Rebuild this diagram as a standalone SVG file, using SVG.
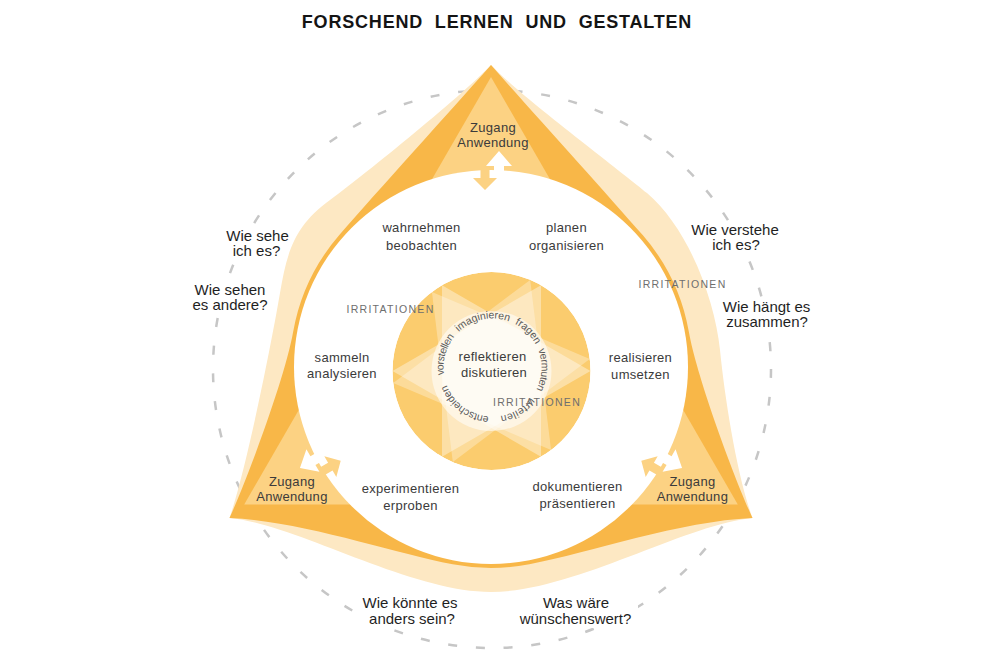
<svg xmlns="http://www.w3.org/2000/svg" width="1000" height="667" viewBox="0 0 1000 667">
<style>
text{font-family:"Liberation Sans",Arial,sans-serif}
.title{font-size:18px;font-weight:bold;fill:#141414;letter-spacing:0.8px;word-spacing:6px;text-anchor:middle}
.lbl{font-size:13px;fill:#3b3b3b;text-anchor:middle;letter-spacing:0.3px}
.q{font-size:15px;fill:#1f1f1f;text-anchor:middle}
.irr{font-size:10.5px;fill:#6e6e6e;letter-spacing:1.3px;text-anchor:middle}
.ring{font-size:10.5px;fill:#5a5a5a}
.pale{fill:#fde8c3}
.dark{fill:#f8b748}
.tri{fill:#fcd283}
.aw{fill:#ffffff}
.ay{fill:#fcd283}
.star{fill:#ffffff}
</style>
<defs>
<mask id="qmask" maskUnits="userSpaceOnUse" x="0" y="0" width="1000" height="667">
<rect width="1000" height="667" fill="#fff"/>
<g fill="#000">
<rect x="222" y="228" width="72" height="32"/>
<rect x="188" y="281" width="86" height="33"/>
<rect x="688" y="222" width="94" height="33"/>
<rect x="719" y="299" width="95" height="33"/>
<rect x="358" y="594" width="104" height="34"/>
<rect x="514" y="594" width="124" height="34"/>
</g>
</mask>
<clipPath id="coreclip"><circle cx="491.5" cy="371" r="99"/></clipPath>
<path id="ring" d="M492.5,416.5 A49,49 0 1 1 492.5,318.5 A49,49 0 1 1 492.5,416.5"/>
<g id="arrowpair">
<polygon class="ay" points="-10.5,-205 -1.5,-205 -1.5,-189 6,-189 -6,-177 -18,-189 -10.5,-189"/>
<polygon class="aw" points="3,-194 3,-201 -5,-201 8,-216 21,-201 13,-201 13,-194"/>
</g>
</defs>

<g id="title"><text class="title" x="497" y="28">FORSCHEND LERNEN UND GESTALTEN</text></g>

<g id="outer-ring">
<circle cx="492" cy="369" r="279" fill="none" stroke="#c6c6c6" stroke-width="2.5" stroke-dasharray="9 18.83" mask="url(#qmask)"/>
</g>

<g id="cycle-shape" transform="translate(491,367)">
<path class="pale" d="M0,-302 C-30,-270 -136.6,-184.5 -161,-167 C-197.6,-140.8 -204.2,-113.4 -211,-74 C-221.2,-14.9 -245.2,103.7 -261.5,151 C-195,157 -82,225 0,225 C82,225 195,157 261.5,151 C246.1,108.7 234,32.8 229,-17 C224,-66.8 197.8,-138.3 156,-174 C133.2,-193.5 28,-272 0,-302Z"/>
<path class="dark" d="M0,-302 C-46,-250 -111,-178.7 -151.7,-131.9 A201,201 0 0 0 -197.9,-34.9 C-205.7,9.4 -242,108 -261.5,151 C-190,154 -99.2,185.5 -38.35,197.3 A201,201 0 0 0 38.35,197.3 C99.2,185.5 190,154 261.5,151 C242,108 205.7,9.4 197.9,-34.9 A201,201 0 0 0 151.7,-131.9 C111,-178.7 46,-250 0,-302Z"/>
<polygon class="tri" points="0,-290 -246.8,137.5 246.8,137.5"/>
<circle cx="0" cy="0" r="197" fill="#ffffff"/>
</g>

<g id="connectors" transform="translate(491,367)">
<use href="#arrowpair"/>
<use href="#arrowpair" transform="rotate(-120)"/>
<use href="#arrowpair" transform="rotate(120) scale(-1,1)"/>
</g>

<g id="core">
<g clip-path="url(#coreclip)">
<circle cx="491.5" cy="371" r="99" fill="#fbcc6e"/>
<g transform="translate(491.5,371)">
<g class="star" fill-opacity="0.38">
<polygon points="99,0 -49.5,85.7 -49.5,-85.7"/>
<polygon points="-99,0 49.5,-85.7 49.5,85.7"/>
</g>
<g class="star" fill-opacity="0.3" transform="rotate(-7)">
<polygon points="99,0 -49.5,85.7 -49.5,-85.7"/>
<polygon points="-99,0 49.5,-85.7 49.5,85.7"/>
</g>
<circle r="60" fill="#ffffff" fill-opacity="0.55"/>
</g>
</g>
<text class="ring" letter-spacing="-0.15"><textPath href="#ring" startOffset="3.7">entscheiden</textPath></text>
<text class="ring" letter-spacing="-0.45"><textPath href="#ring" startOffset="69.4">vorstellen</textPath></text>
<text class="ring"><textPath href="#ring" startOffset="116.4">imaginieren</textPath></text>
<text class="ring"><textPath href="#ring" startOffset="176.9">fragen</textPath></text>
<text class="ring" letter-spacing="-0.4"><textPath href="#ring" startOffset="212.4">vermuten</textPath></text>
<text class="ring" letter-spacing="0.3"><textPath href="#ring" startOffset="263.1">urteilen</textPath></text>
</g>

<g id="n-zugang-top"><text class="lbl"><tspan x="493" y="131.5">Zugang</tspan><tspan x="493" y="147">Anwendung</tspan></text></g>
<g id="n-zugang-left"><text class="lbl"><tspan x="292" y="486">Zugang</tspan><tspan x="292" y="501">Anwendung</tspan></text></g>
<g id="n-zugang-right"><text class="lbl"><tspan x="692.5" y="486">Zugang</tspan><tspan x="692.5" y="501">Anwendung</tspan></text></g>
<g id="n-wahrnehmen"><text class="lbl"><tspan x="421.5" y="231.5">wahrnehmen</tspan><tspan x="421.5" y="250">beobachten</tspan></text></g>
<g id="n-planen"><text class="lbl"><tspan x="566.5" y="231.5">planen</tspan><tspan x="566.5" y="250">organisieren</tspan></text></g>
<g id="n-sammeln"><text class="lbl"><tspan x="342" y="361.5">sammeln</tspan><tspan x="342" y="378">analysieren</tspan></text></g>
<g id="n-realisieren"><text class="lbl"><tspan x="640.5" y="362">realisieren</tspan><tspan x="640.5" y="379">umsetzen</tspan></text></g>
<g id="n-experimentieren"><text class="lbl"><tspan x="410.5" y="493">experimentieren</tspan><tspan x="410.5" y="510">erproben</tspan></text></g>
<g id="n-dokumentieren"><text class="lbl"><tspan x="577.5" y="491">dokumentieren</tspan><tspan x="577.5" y="508">präsentieren</tspan></text></g>
<g id="n-reflektieren"><text class="lbl"><tspan x="492.5" y="360.5">reflektieren</tspan><tspan x="494" y="377">diskutieren</tspan></text></g>

<g id="irr-1"><text class="irr" x="390.5" y="313">IRRITATIONEN</text></g>
<g id="irr-2"><text class="irr" x="537" y="406">IRRITATIONEN</text></g>
<g id="irr-3"><text class="irr" x="682.5" y="288">IRRITATIONEN</text></g>

<g id="q-sehe"><text class="q"><tspan x="257.5" y="241">Wie sehe</tspan><tspan x="256.5" y="256">ich es?</tspan></text></g>
<g id="q-sehen"><text class="q"><tspan x="230" y="294.5">Wie sehen</tspan><tspan x="230" y="309.5">es andere?</tspan></text></g>
<g id="q-verstehe"><text class="q"><tspan x="735" y="235">Wie verstehe</tspan><tspan x="736" y="250">ich es?</tspan></text></g>
<g id="q-haengt"><text class="q"><tspan x="766.5" y="311.5">Wie hängt es</tspan><tspan x="767" y="326.5">zusammen?</tspan></text></g>
<g id="q-koennte"><text class="q"><tspan x="410" y="607.5">Wie könnte es</tspan><tspan x="412" y="623.5">anders sein?</tspan></text></g>
<g id="q-waere"><text class="q"><tspan x="576" y="607.5">Was wäre</tspan><tspan x="575.5" y="623.5">wünschenswert?</tspan></text></g>
</svg>
